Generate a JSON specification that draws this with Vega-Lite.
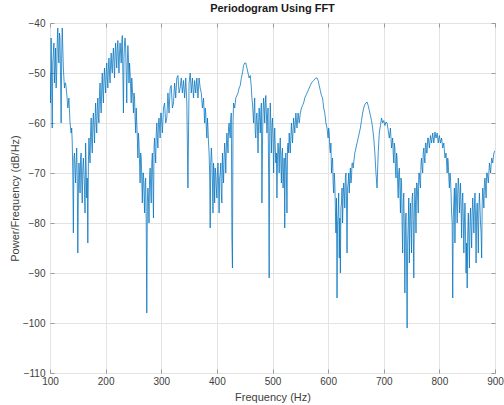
{
  "$schema": "https://vega.github.io/schema/vega-lite/v6.json",
  "width": 445,
  "height": 350,
  "autosize": "none",
  "padding": {"left": 50, "top": 23, "right": 9, "bottom": 32},
  "background": "white",
  "config": {
    "font": "Liberation Sans",
    "view": {"stroke": "#9a9a9a", "strokeWidth": 1},
    "axis": {
      "labelFont": "Liberation Sans",
      "titleFont": "Liberation Sans",
      "labelFontSize": 10,
      "titleFontSize": 11,
      "labelColor": "#404040",
      "titleColor": "#404040",
      "titleFontWeight": "normal",
      "gridColor": "#e3e3e3",
      "gridWidth": 1,
      "domain": false,
      "tickColor": "#9a9a9a",
      "tickSize": -4
    }
  },
  "title": {
    "text": "Periodogram Using FFT",
    "font": "Liberation Sans",
    "fontSize": 11,
    "fontWeight": "bold",
    "color": "#1a1a1a",
    "offset": 4,
    "anchor": "middle"
  },
  "data": {"values": [
    {"f":100,"p":-50},{"f":101,"p":-56},{"f":102,"p":-43},{"f":103,"p":-52},{"f":104,"p":-61},{"f":105,"p":-48},{"f":106,"p":-46},{"f":107,"p":-44},{"f":108,"p":-52},{"f":109,"p":-49},
    {"f":110,"p":-45},{"f":111,"p":-53},{"f":112,"p":-50},{"f":113,"p":-44},{"f":114,"p":-41},{"f":115,"p":-46},{"f":116,"p":-48},{"f":117,"p":-42},{"f":118,"p":-43},{"f":119,"p":-51},
    {"f":120,"p":-60},{"f":121,"p":-47},{"f":122,"p":-41},{"f":123,"p":-45},{"f":124,"p":-49},{"f":125,"p":-51},{"f":126,"p":-53},{"f":127,"p":-52},{"f":128,"p":-52},{"f":130,"p":-54},
    {"f":132,"p":-57},{"f":134,"p":-55},{"f":136,"p":-60},{"f":138,"p":-62},{"f":139,"p":-61},
    {"f":140,"p":-64},{"f":141,"p":-70},{"f":142,"p":-82},{"f":143,"p":-67},{"f":144,"p":-66},{"f":145,"p":-69},{"f":146,"p":-72},{"f":147,"p":-68},{"f":148,"p":-65},{"f":149,"p":-71},
    {"f":150,"p":-86},{"f":151,"p":-74},{"f":152,"p":-68},{"f":153,"p":-70},{"f":154,"p":-74},{"f":155,"p":-67},{"f":156,"p":-66},{"f":157,"p":-72},{"f":158,"p":-76},{"f":159,"p":-69},
    {"f":160,"p":-67},{"f":161,"p":-70},{"f":162,"p":-73},{"f":163,"p":-78},{"f":164,"p":-64},{"f":165,"p":-69},{"f":166,"p":-75},{"f":167,"p":-71},{"f":168,"p":-84},{"f":169,"p":-68},
    {"f":170,"p":-63},{"f":171,"p":-66},{"f":172,"p":-68},{"f":173,"p":-62},{"f":174,"p":-59},{"f":175,"p":-64},{"f":176,"p":-66},{"f":177,"p":-60},{"f":178,"p":-58},{"f":179,"p":-61},
    {"f":180,"p":-64},{"f":181,"p":-59},{"f":182,"p":-56},{"f":183,"p":-60},{"f":184,"p":-62},{"f":185,"p":-57},{"f":186,"p":-55},{"f":187,"p":-59},{"f":188,"p":-60},{"f":189,"p":-54},
    {"f":190,"p":-52},{"f":191,"p":-56},{"f":192,"p":-58},{"f":193,"p":-53},{"f":194,"p":-50},{"f":195,"p":-54},{"f":196,"p":-56},{"f":197,"p":-51},{"f":198,"p":-49},{"f":199,"p":-52},
    {"f":200,"p":-54},{"f":201,"p":-50},{"f":202,"p":-48},{"f":203,"p":-51},{"f":204,"p":-53},{"f":205,"p":-49},{"f":206,"p":-47},{"f":207,"p":-50},{"f":208,"p":-52},{"f":209,"p":-48},
    {"f":210,"p":-46},{"f":211,"p":-49},{"f":212,"p":-50},{"f":213,"p":-47},{"f":214,"p":-45},{"f":215,"p":-48},{"f":216,"p":-51},{"f":217,"p":-46},{"f":218,"p":-44},{"f":219,"p":-47},
    {"f":220,"p":-49},{"f":221,"p":-45},{"f":222,"p":-43.5},{"f":223,"p":-47},{"f":224,"p":-50},{"f":225,"p":-46},{"f":226,"p":-44},{"f":227,"p":-46},{"f":228,"p":-48},{"f":229,"p":-44},
    {"f":230,"p":-42.5},{"f":231,"p":-50},{"f":232,"p":-58},{"f":233,"p":-47},{"f":234,"p":-44},{"f":235,"p":-43},{"f":236,"p":-45},{"f":237,"p":-50},{"f":238,"p":-56},{"f":239,"p":-48},
    {"f":240,"p":-44.5},{"f":241,"p":-47},{"f":242,"p":-52},{"f":243,"p":-48},{"f":244,"p":-50},{"f":245,"p":-53},{"f":246,"p":-56},{"f":247,"p":-51},{"f":248,"p":-53},{"f":249,"p":-55},
    {"f":250,"p":-58},{"f":251,"p":-54},{"f":252,"p":-55},{"f":253,"p":-59},{"f":254,"p":-62},{"f":255,"p":-57},{"f":256,"p":-60},{"f":257,"p":-63},{"f":258,"p":-67},{"f":259,"p":-62},
    {"f":260,"p":-64},{"f":261,"p":-68},{"f":262,"p":-72},{"f":263,"p":-66},{"f":264,"p":-67},{"f":265,"p":-71},{"f":266,"p":-76},{"f":267,"p":-70},{"f":268,"p":-70},{"f":269,"p":-74},
    {"f":270,"p":-78},{"f":271,"p":-72},{"f":272,"p":-71},{"f":273,"p":-80},{"f":274,"p":-98},{"f":275,"p":-76},{"f":276,"p":-73},{"f":277,"p":-75},{"f":278,"p":-80},{"f":279,"p":-71},
    {"f":280,"p":-69},{"f":281,"p":-73},{"f":282,"p":-76},{"f":283,"p":-68},{"f":284,"p":-66},{"f":285,"p":-72},{"f":286,"p":-79},{"f":287,"p":-65},{"f":288,"p":-63},{"f":289,"p":-66},
    {"f":290,"p":-68},{"f":291,"p":-62},{"f":292,"p":-60},{"f":293,"p":-63},{"f":294,"p":-65},{"f":295,"p":-60},{"f":296,"p":-59},{"f":297,"p":-61},{"f":298,"p":-63},{"f":299,"p":-58},
    {"f":300,"p":-58},{"f":302,"p":-62},{"f":304,"p":-57},{"f":306,"p":-56},{"f":308,"p":-60},{"f":310,"p":-59},{"f":312,"p":-54},{"f":314,"p":-58},{"f":316,"p":-53},{"f":318,"p":-52.5},
    {"f":320,"p":-57},{"f":322,"p":-56},{"f":324,"p":-52},{"f":326,"p":-55},{"f":328,"p":-51},{"f":330,"p":-50.5},{"f":332,"p":-54},{"f":334,"p":-53},{"f":336,"p":-51},{"f":338,"p":-54},
    {"f":340,"p":-51.5},{"f":342,"p":-55},{"f":344,"p":-51},{"f":346,"p":-56},{"f":348,"p":-73},{"f":350,"p":-52},{"f":352,"p":-50},{"f":354,"p":-54},{"f":356,"p":-51},{"f":358,"p":-55},
    {"f":360,"p":-51.5},{"f":362,"p":-54},{"f":364,"p":-51},{"f":366,"p":-55},{"f":368,"p":-51},{"f":370,"p":-53},{"f":372,"p":-54},{"f":374,"p":-57},{"f":376,"p":-55},{"f":378,"p":-60},
    {"f":379,"p":-57},{"f":380,"p":-58},{"f":381,"p":-61},{"f":382,"p":-63},{"f":383,"p":-59},{"f":384,"p":-61},{"f":385,"p":-64},{"f":386,"p":-66},{"f":387,"p":-70},{"f":388,"p":-81},
    {"f":389,"p":-68},{"f":390,"p":-65},{"f":391,"p":-67},{"f":392,"p":-72},{"f":393,"p":-78},{"f":394,"p":-68},{"f":395,"p":-70},{"f":396,"p":-76},{"f":397,"p":-69},{"f":398,"p":-70},
    {"f":399,"p":-73},{"f":400,"p":-75},{"f":401,"p":-70},{"f":402,"p":-68},{"f":403,"p":-72},{"f":404,"p":-78},{"f":405,"p":-71},{"f":406,"p":-70},{"f":407,"p":-68},{"f":408,"p":-74},
    {"f":409,"p":-76},{"f":410,"p":-66},{"f":411,"p":-69},{"f":412,"p":-72},{"f":413,"p":-67},{"f":414,"p":-64},{"f":415,"p":-66},{"f":416,"p":-70},{"f":417,"p":-65},{"f":418,"p":-62},
    {"f":419,"p":-64},{"f":420,"p":-66},{"f":421,"p":-61},{"f":422,"p":-60},{"f":423,"p":-62},{"f":424,"p":-63},{"f":425,"p":-59},{"f":426,"p":-58},{"f":427,"p":-83},{"f":428,"p":-89},
    {"f":429,"p":-60},{"f":430,"p":-56},{"f":432,"p":-57},{"f":434,"p":-55},{"f":436,"p":-54.5},{"f":438,"p":-54},{"f":440,"p":-53},{"f":442,"p":-52.5},{"f":444,"p":-51},{"f":446,"p":-50},
    {"f":448,"p":-48.5},{"f":450,"p":-48},{"f":452,"p":-48},{"f":454,"p":-49},{"f":456,"p":-50},{"f":458,"p":-51},{"f":460,"p":-50.5},{"f":462,"p":-53},
    {"f":463,"p":-55},{"f":464,"p":-56},{"f":465,"p":-58},{"f":466,"p":-60},{"f":467,"p":-57},{"f":468,"p":-55},{"f":469,"p":-62},{"f":470,"p":-63},{"f":471,"p":-59},{"f":472,"p":-58},
    {"f":473,"p":-61},{"f":474,"p":-66},{"f":475,"p":-60},{"f":476,"p":-57},{"f":477,"p":-59},{"f":478,"p":-62},{"f":479,"p":-58},{"f":480,"p":-56},{"f":481,"p":-76},{"f":482,"p":-64},
    {"f":483,"p":-58},{"f":484,"p":-55},{"f":485,"p":-57},{"f":486,"p":-60},{"f":487,"p":-56},{"f":488,"p":-54.5},{"f":489,"p":-58},{"f":490,"p":-62},{"f":491,"p":-59},{"f":492,"p":-57},
    {"f":493,"p":-70},{"f":494,"p":-91},{"f":495,"p":-62},{"f":496,"p":-56},{"f":497,"p":-60},{"f":498,"p":-66},{"f":499,"p":-61},{"f":500,"p":-59},{"f":501,"p":-63},{"f":502,"p":-70},
    {"f":503,"p":-64},{"f":504,"p":-61},{"f":505,"p":-65},{"f":506,"p":-68},{"f":507,"p":-66},{"f":508,"p":-75},{"f":509,"p":-67},{"f":510,"p":-64},{"f":511,"p":-66},{"f":512,"p":-70},
    {"f":513,"p":-65},{"f":514,"p":-63},{"f":515,"p":-68},{"f":516,"p":-72},{"f":517,"p":-66},{"f":518,"p":-65},{"f":519,"p":-73},{"f":520,"p":-70},{"f":521,"p":-67},{"f":522,"p":-81},
    {"f":523,"p":-68},{"f":524,"p":-66},{"f":525,"p":-70},{"f":526,"p":-78},{"f":527,"p":-65},{"f":528,"p":-64},{"f":529,"p":-66},{"f":530,"p":-62},
    {"f":532,"p":-66},{"f":534,"p":-60},{"f":536,"p":-64},{"f":538,"p":-59},{"f":540,"p":-62},{"f":542,"p":-58},{"f":544,"p":-61},{"f":546,"p":-58},{"f":548,"p":-60},{"f":550,"p":-58},
    {"f":552,"p":-57},{"f":554,"p":-56.5},{"f":556,"p":-56},{"f":558,"p":-55},{"f":560,"p":-54.5},{"f":562,"p":-54},{"f":564,"p":-53.5},{"f":566,"p":-53},{"f":568,"p":-52.5},{"f":570,"p":-52},
    {"f":572,"p":-51.7},{"f":574,"p":-51.5},{"f":576,"p":-51.2},{"f":578,"p":-51},{"f":580,"p":-51},{"f":582,"p":-51.5},{"f":584,"p":-52.5},{"f":586,"p":-53.5},{"f":588,"p":-54.5},{"f":590,"p":-55},
    {"f":592,"p":-57},{"f":594,"p":-58},{"f":596,"p":-60},{"f":598,"p":-61},
    {"f":599,"p":-62},{"f":600,"p":-63},{"f":601,"p":-61},{"f":602,"p":-62},{"f":603,"p":-65},{"f":604,"p":-66},{"f":605,"p":-64},{"f":606,"p":-70},{"f":607,"p":-68},{"f":608,"p":-67},
    {"f":609,"p":-72},{"f":610,"p":-74},{"f":611,"p":-70},{"f":612,"p":-72},{"f":613,"p":-77},{"f":614,"p":-82},{"f":615,"p":-75},{"f":616,"p":-95},{"f":617,"p":-80},{"f":618,"p":-78},
    {"f":619,"p":-74},{"f":620,"p":-87},{"f":621,"p":-79},{"f":622,"p":-90},{"f":623,"p":-77},{"f":624,"p":-76},{"f":625,"p":-73},{"f":626,"p":-80},{"f":627,"p":-75},{"f":628,"p":-72},
    {"f":629,"p":-74},{"f":630,"p":-77},{"f":631,"p":-71},{"f":632,"p":-70},{"f":633,"p":-75},{"f":634,"p":-86},{"f":635,"p":-73},{"f":636,"p":-72},{"f":637,"p":-70},{"f":638,"p":-74},
    {"f":639,"p":-71},{"f":640,"p":-69},{"f":641,"p":-72},{"f":642,"p":-71},{"f":643,"p":-68},{"f":644,"p":-68},{"f":645,"p":-69},{"f":646,"p":-68},
    {"f":648,"p":-66},{"f":650,"p":-65},{"f":652,"p":-64},{"f":654,"p":-63},{"f":656,"p":-62},{"f":658,"p":-61},{"f":660,"p":-59.5},{"f":662,"p":-58},{"f":664,"p":-57},{"f":666,"p":-56.3},
    {"f":668,"p":-56},{"f":670,"p":-55.8},{"f":672,"p":-56.5},{"f":674,"p":-57.5},{"f":676,"p":-58.5},{"f":678,"p":-59.5},{"f":680,"p":-61},{"f":682,"p":-63},{"f":684,"p":-66},{"f":686,"p":-70},
    {"f":688,"p":-73},{"f":690,"p":-66},{"f":692,"p":-62},{"f":694,"p":-60.5},{"f":696,"p":-59},{"f":698,"p":-60},{"f":700,"p":-59.5},{"f":702,"p":-60.5},{"f":704,"p":-59.8},{"f":706,"p":-60},
    {"f":708,"p":-61.5},{"f":710,"p":-63},{"f":712,"p":-61},{"f":714,"p":-65},{"f":716,"p":-63},
    {"f":717,"p":-66},{"f":718,"p":-68},{"f":719,"p":-64},{"f":720,"p":-65},{"f":721,"p":-69},{"f":722,"p":-71},{"f":723,"p":-66},{"f":724,"p":-67},{"f":725,"p":-72},{"f":726,"p":-75},
    {"f":727,"p":-70},{"f":728,"p":-69},{"f":729,"p":-73},{"f":730,"p":-78},{"f":731,"p":-71},{"f":732,"p":-72},{"f":733,"p":-80},{"f":734,"p":-86},{"f":735,"p":-76},{"f":736,"p":-74},
    {"f":737,"p":-82},{"f":738,"p":-94},{"f":739,"p":-80},{"f":740,"p":-78},{"f":741,"p":-88},{"f":742,"p":-101},{"f":743,"p":-84},{"f":744,"p":-80},{"f":745,"p":-75},{"f":746,"p":-88},
    {"f":747,"p":-79},{"f":748,"p":-76},{"f":749,"p":-81},{"f":750,"p":-86},{"f":751,"p":-75},{"f":752,"p":-74},{"f":753,"p":-80},{"f":754,"p":-91},{"f":755,"p":-78},{"f":756,"p":-73},
    {"f":757,"p":-76},{"f":758,"p":-82},{"f":759,"p":-72},{"f":760,"p":-72},{"f":761,"p":-75},{"f":762,"p":-78},{"f":763,"p":-70},{"f":764,"p":-70},{"f":765,"p":-72},{"f":766,"p":-73},
    {"f":767,"p":-68},{"f":768,"p":-67},{"f":769,"p":-69},{"f":770,"p":-70},{"f":771,"p":-66},{"f":772,"p":-65},{"f":773,"p":-67},{"f":774,"p":-68},{"f":775,"p":-64},{"f":776,"p":-64},
    {"f":777,"p":-66},{"f":778,"p":-66},{"f":779,"p":-63},{"f":780,"p":-63},
    {"f":782,"p":-65},{"f":784,"p":-62.5},{"f":786,"p":-64},{"f":788,"p":-62},{"f":790,"p":-64},{"f":792,"p":-61.8},{"f":794,"p":-63},{"f":796,"p":-62},{"f":798,"p":-64},{"f":800,"p":-62.5},
    {"f":802,"p":-64},{"f":804,"p":-63},{"f":806,"p":-65},{"f":808,"p":-64},{"f":810,"p":-67},{"f":812,"p":-66},
    {"f":813,"p":-68},{"f":814,"p":-70},{"f":815,"p":-67},{"f":816,"p":-68},{"f":817,"p":-71},{"f":818,"p":-73},{"f":819,"p":-70},{"f":820,"p":-71},{"f":821,"p":-74},{"f":822,"p":-78},
    {"f":823,"p":-80},{"f":824,"p":-95},{"f":825,"p":-79},{"f":826,"p":-76},{"f":827,"p":-73},{"f":828,"p":-84},{"f":829,"p":-75},{"f":830,"p":-72},{"f":831,"p":-76},{"f":832,"p":-80},
    {"f":833,"p":-74},{"f":834,"p":-71},{"f":835,"p":-73},{"f":836,"p":-78},{"f":837,"p":-75},{"f":838,"p":-72},{"f":839,"p":-77},{"f":840,"p":-83},{"f":841,"p":-76},{"f":842,"p":-74},
    {"f":843,"p":-79},{"f":844,"p":-86},{"f":845,"p":-80},{"f":846,"p":-76},{"f":847,"p":-82},{"f":848,"p":-90},{"f":849,"p":-84},{"f":850,"p":-93},{"f":851,"p":-82},{"f":852,"p":-78},
    {"f":853,"p":-83},{"f":854,"p":-89},{"f":855,"p":-80},{"f":856,"p":-77},{"f":857,"p":-81},{"f":858,"p":-85},{"f":859,"p":-78},{"f":860,"p":-75},{"f":861,"p":-78},{"f":862,"p":-82},
    {"f":863,"p":-77},{"f":864,"p":-74},{"f":865,"p":-79},{"f":866,"p":-88},{"f":867,"p":-78},{"f":868,"p":-76},{"f":869,"p":-80},{"f":870,"p":-86},{"f":871,"p":-77},{"f":872,"p":-74},
    {"f":873,"p":-77},{"f":874,"p":-80},{"f":875,"p":-82},{"f":876,"p":-87},{"f":877,"p":-76},{"f":878,"p":-73},{"f":879,"p":-75},{"f":880,"p":-77},{"f":881,"p":-72},{"f":882,"p":-71},
    {"f":883,"p":-73},{"f":884,"p":-75},{"f":885,"p":-70},{"f":886,"p":-70},{"f":887,"p":-71},{"f":888,"p":-72},
    {"f":890,"p":-68},{"f":892,"p":-70},{"f":894,"p":-67},{"f":896,"p":-68},{"f":898,"p":-66},{"f":900,"p":-65.5}
  ]},
  "layer": [
    {
      "mark": {"type": "line", "color": "#0072BD", "strokeWidth": 0.75, "clip": true},
      "encoding": {
        "x": {
          "field": "f", "type": "quantitative",
          "scale": {"domain": [100, 900], "nice": false, "zero": false},
          "axis": {"orient": "bottom", "title": "Frequency (Hz)", "values": [100,200,300,400,500,600,700,800,900], "grid": true, "labelPadding": 7, "titlePadding": 5, "labelFlush": false}
        },
        "y": {
          "field": "p", "type": "quantitative",
          "scale": {"domain": [-110, -40], "nice": false, "zero": false},
          "axis": {"orient": "left", "title": "Power/Frequency (dB/Hz)", "values": [-110,-100,-90,-80,-70,-60,-50,-40], "grid": true, "labelPadding": 9, "titlePadding": 2}
        }
      }
    },
    {
      "mark": {"type": "line", "opacity": 0},
      "encoding": {
        "x": {
          "field": "f", "type": "quantitative",
          "scale": {"domain": [100, 900], "nice": false, "zero": false},
          "axis": {"orient": "top", "title": null, "labels": false, "grid": false, "values": [100,200,300,400,500,600,700,800,900]}
        },
        "y": {
          "field": "p", "type": "quantitative",
          "scale": {"domain": [-110, -40], "nice": false, "zero": false},
          "axis": {"orient": "right", "title": null, "labels": false, "grid": false, "values": [-110,-100,-90,-80,-70,-60,-50,-40]}
        }
      }
    }
  ],
  "resolve": {"axis": {"x": "independent", "y": "independent"}}
}
